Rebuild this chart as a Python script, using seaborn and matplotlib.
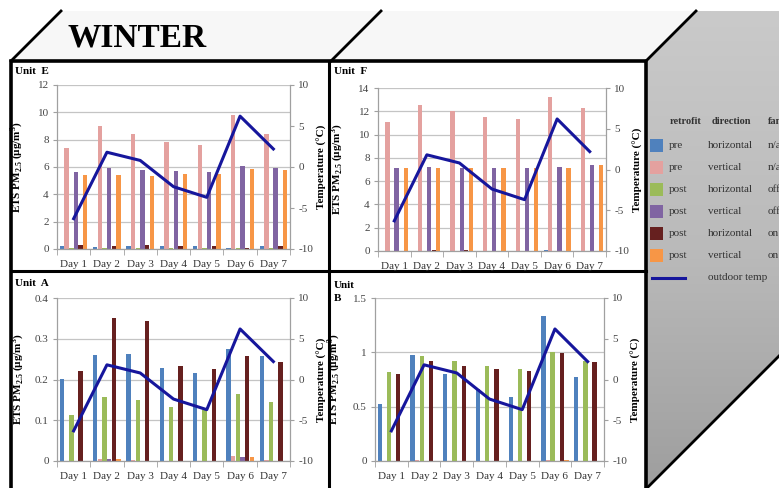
import numpy as np
import pandas as pd
import seaborn as sns
import matplotlib.pyplot as plt
from matplotlib.patches import Polygon, Rectangle
from matplotlib.colors import LinearSegmentedColormap
from matplotlib.ticker import FixedLocator

# ---- data ----
days = ['Day 1', 'Day 2', 'Day 3', 'Day 4', 'Day 5', 'Day 6', 'Day 7']
retrofit = ['pre', 'pre', 'post', 'post', 'post', 'post']
direction = ['horizontal', 'vertical', 'horizontal', 'vertical', 'horizontal', 'vertical']
fan = ['n/a', 'n/a', 'off', 'off', 'on', 'on']
series_colors = ['#4f81bd', '#e4a19f', '#9bbb59', '#8064a2', '#66201f', '#f79646']
line_color = '#16169c'

outdoor_temp = [-6.3, 1.8, 0.8, -2.4, -3.7, 6.2, 2.2]

# one row per series (same order as retrofit/direction/fan)
unit_e = [
    [0.2, 0.15, 0.2, 0.2, 0.2, 0.1, 0.2],
    [7.4, 9.0, 8.45, 7.85, 7.6, 9.8, 8.45],
    [0.1, 0.1, 0.1, 0.1, 0.1, 0.05, 0.1],
    [5.6, 5.95, 5.8, 5.7, 5.6, 6.1, 5.95],
    [0.3, 0.25, 0.3, 0.25, 0.25, 0.1, 0.25],
    [5.4, 5.45, 5.35, 5.5, 5.5, 5.85, 5.8],
]
unit_f = [
    [0.0, 0.0, 0.0, 0.0, 0.0, 0.05, 0.0],
    [11.1, 12.55, 12.05, 11.55, 11.3, 13.2, 12.3],
    [0.0, 0.0, 0.0, 0.0, 0.0, 0.0, 0.0],
    [7.15, 7.2, 7.15, 7.15, 7.15, 7.2, 7.4],
    [0.0, 0.05, 0.05, 0.0, 0.0, 0.0, 0.0],
    [7.1, 7.1, 7.1, 7.15, 7.15, 7.15, 7.4],
]
unit_a = [
    [0.202, 0.259, 0.263, 0.229, 0.217, 0.274, 0.258],
    [0.0, 0.005, 0.003, 0.0, 0.0, 0.012, 0.003],
    [0.114, 0.158, 0.149, 0.133, 0.124, 0.165, 0.145],
    [0.0, 0.004, 0.0, 0.0, 0.0, 0.01, 0.0],
    [0.22, 0.352, 0.343, 0.233, 0.225, 0.258, 0.243],
    [0.0, 0.004, 0.0, 0.0, 0.0, 0.009, 0.0],
]
unit_b = [
    [0.52, 0.98, 0.80, 0.66, 0.59, 1.33, 0.77],
    [0.0, 0.01, 0.0, 0.0, 0.0, 0.01, 0.0],
    [0.815, 0.965, 0.92, 0.87, 0.845, 1.005, 0.92],
    [0.0, 0.0, 0.0, 0.0, 0.0, 0.0, 0.0],
    [0.80, 0.92, 0.87, 0.845, 0.83, 0.99, 0.91],
    [0.0, 0.0, 0.0, 0.0, 0.0, 0.01, 0.0],
]

series = [f'{r} {d} {f}' for r, d, f in zip(retrofit, direction, fan)]

W, H = 779, 488
plt.rcParams['font.family'] = ['Liberation Serif', 'DejaVu Serif']
plt.rcParams['mathtext.fontset'] = 'custom'
plt.rcParams['mathtext.rm'] = 'Liberation Serif'
plt.rcParams['mathtext.bf'] = 'Liberation Serif:bold'
plt.rcParams['axes.unicode_minus'] = False

fig = plt.figure(figsize=(W / 100, H / 100), dpi=100)
fig.patch.set_facecolor('white')

# ---- 3D box drawn in pixel coordinates ----
bg = fig.add_axes([0, 0, 1, 1], zorder=-1)
bg.axis('off')
bg.add_patch(Polygon([(11, 61), (62, 11), (696, 11), (646, 61)], closed=True,
                     facecolor='#f7f7f7', edgecolor='none'))
side = Polygon([(646, 61), (696, 11), (779, 11), (779, 356), (646, 489)], closed=True,
               facecolor='none', edgecolor='none')
bg.add_patch(side)
grey = LinearSegmentedColormap.from_list('side', ['#cacaca', '#bababa', '#9e9e9e'])
im = bg.imshow(np.linspace(0, 1, 256).reshape(-1, 1), cmap=grey, aspect='auto',
               extent=[646, 779, 489, 11])
im.set_clip_path(side)
bg.add_patch(Rectangle((11, 61), 635, 440, facecolor='white', edgecolor='black', lw=2.6))
for x0 in (11, 331, 646):
    bg.plot([x0, x0 + 50], [61, 11], color='black', lw=2)
bg.plot([646, 779], [489, 356], color='black', lw=2)
bg.plot([329, 329], [61, 490], color='black', lw=2.2)
bg.plot([11, 646], [271, 271], color='black', lw=2.2)
bg.set_xlim(0, W)
bg.set_ylim(H, 0)

bg.text(137, 38, 'WINTER', fontsize=24, fontweight='bold', ha='center', va='center')

# legend table on the grey side
txt = '#333333'
bg.text(670, 122, 'retrofit', fontsize=7.5, fontweight='bold', color=txt, va='center')
bg.text(712, 122, 'direction', fontsize=7.5, fontweight='bold', color=txt, va='center')
bg.text(768, 122, 'fan', fontsize=7.5, fontweight='bold', color=txt, va='center')
for i in range(len(series)):
    y = 145 + i * 22
    bg.add_patch(Rectangle((650, y - 6.5), 13, 13, facecolor=series_colors[i], edgecolor='none'))
    bg.text(669, y, retrofit[i], fontsize=8, color=txt, va='center')
    bg.text(708, y, direction[i], fontsize=8, color=txt, va='center')
    bg.text(768, y, fan[i], fontsize=8, color=txt, va='center')
bg.plot([652, 685], [278, 278], color=line_color, lw=2.2)
bg.text(708, 277, 'outdoor temp', fontsize=8, color=txt, va='center')


def panel(box, values, ymax, ystep, name, name_xy, ylab_x, tlab_x):
    l, t, r, b = box
    ax = fig.add_axes([l / W, (H - b) / H, (r - l) / W, (b - t) / H])
    df = pd.DataFrame({
        'day': np.tile(days, len(series)),
        'series': np.repeat(series, len(days)),
        'pm': np.concatenate(values),
    })
    sns.barplot(data=df, x='day', y='pm', hue='series', hue_order=series,
                palette=series_colors, width=0.84, gap=0.06, saturation=1,
                linewidth=0, legend=False, ax=ax)
    ax.set_xlim(-0.5, len(days) - 0.5)
    ax.set_ylim(0, ymax)
    ticks = np.arange(0, ymax + ystep / 2, ystep)
    ax.set_yticks(ticks)
    ax.set_yticklabels([f'{v:g}' for v in ticks])
    ax.yaxis.grid(True, color='#c4c4c4', lw=0.9)
    ax.set_axisbelow(True)
    ax.set_facecolor('none')
    for s in ('top', 'right'):
        ax.spines[s].set_visible(False)
    for s in ('left', 'bottom'):
        ax.spines[s].set_color('#a0a0a0')
        ax.spines[s].set_linewidth(0.9)
    ax.xaxis.set_minor_locator(FixedLocator(np.arange(-0.5, len(days), 1)))
    ax.tick_params(axis='x', which='major', length=0, pad=8, labelsize=8, labelcolor='#333333')
    ax.tick_params(axis='x', which='minor', length=4, color='#a0a0a0', direction='out')
    ax.tick_params(axis='y', length=3, color='#a0a0a0', labelsize=8, labelcolor='#444444', pad=3)
    ax.set_xlabel('')
    ax.set_ylabel(r'ETS PM$_{\mathbf{2.5}}$ (µg/m$^{\mathbf{3}}$)', fontsize=8, fontweight='bold')
    ax.yaxis.set_label_coords((ylab_x - l) / (r - l), 0.5)

    ax2 = ax.twinx()
    sns.lineplot(x=np.arange(len(days)), y=outdoor_temp, color=line_color, lw=2.2, ax=ax2)
    ax2.set_ylim(-10, 10)
    ax2.set_yticks([-10, -5, 0, 5, 10])
    for s in ('top', 'left', 'bottom'):
        ax2.spines[s].set_visible(False)
    ax2.spines['right'].set_color('#a0a0a0')
    ax2.spines['right'].set_linewidth(0.9)
    ax2.tick_params(axis='y', length=3, color='#a0a0a0', labelsize=8, labelcolor='#444444', pad=3)
    ax2.set_ylabel('Temperature (°C)', fontsize=8, fontweight='bold')
    ax2.yaxis.set_label_coords((tlab_x - l) / (r - l), 0.5)

    bg.text(name_xy[0], name_xy[1], name, fontsize=8, fontweight='bold', va='center',
            linespacing=1.6)


panel((57, 85, 290, 249), unit_e, 12, 2, 'Unit  E', (15, 71), 25, 317)
panel((378, 88, 606, 251), unit_f, 14, 2, 'Unit  F', (334, 71), 345, 633)
panel((57, 298, 290, 461), unit_a, 0.4, 0.1, 'Unit  A', (15, 284), 26, 317)
panel((375, 298, 604, 461), unit_b, 1.5, 0.5, 'Unit\nB', (334, 292), 342, 631)

fig.savefig('out.png', dpi=100)
